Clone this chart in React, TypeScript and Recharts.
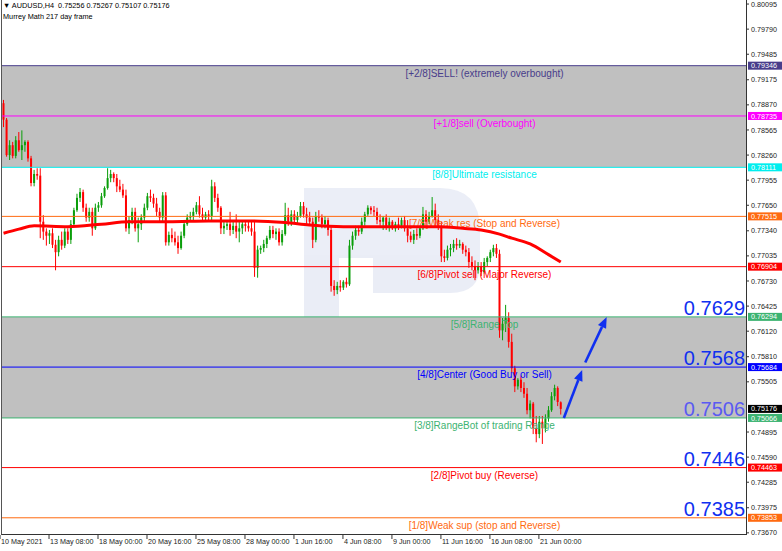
import React from "react";
import {
  Bar,
  ComposedChart,
  Line,
  ReferenceArea,
  ReferenceLine,
  XAxis,
  YAxis,
} from "recharts";

// AUDUSD H4 candles, in pips (price x 10000): open, high, low, close
const candlePips: number[][] = [
  [7889, 7893, 7860, 7869], [7869, 7871, 7824, 7826], [7826, 7844, 7820, 7838], [7838, 7842, 7822, 7825],
  [7825, 7849, 7822, 7844], [7844, 7854, 7830, 7832], [7832, 7856, 7820, 7838], [7838, 7844, 7830, 7842],
  [7842, 7844, 7818, 7822], [7822, 7825, 7788, 7792], [7792, 7808, 7788, 7803], [7803, 7810, 7796, 7801],
  [7801, 7810, 7725, 7745], [7745, 7753, 7723, 7733], [7733, 7737, 7716, 7728], [7728, 7735, 7718, 7731],
  [7731, 7737, 7713, 7717], [7717, 7723, 7686, 7708], [7708, 7728, 7703, 7723], [7723, 7733, 7711, 7716],
  [7716, 7737, 7713, 7733], [7733, 7737, 7718, 7723], [7723, 7747, 7718, 7742], [7742, 7762, 7740, 7759],
  [7759, 7779, 7757, 7774], [7774, 7786, 7769, 7781], [7781, 7784, 7757, 7762], [7762, 7767, 7745, 7750],
  [7750, 7762, 7745, 7757], [7757, 7762, 7728, 7737], [7737, 7767, 7735, 7762], [7762, 7769, 7757, 7765],
  [7765, 7780, 7762, 7776], [7776, 7788, 7774, 7786], [7786, 7810, 7784, 7798], [7798, 7808, 7793, 7803],
  [7803, 7805, 7793, 7798], [7798, 7803, 7781, 7788], [7788, 7796, 7781, 7784], [7784, 7791, 7774, 7777],
  [7777, 7784, 7733, 7737], [7737, 7752, 7730, 7747], [7747, 7762, 7742, 7757], [7757, 7762, 7733, 7737],
  [7737, 7750, 7720, 7742], [7742, 7754, 7735, 7750], [7750, 7767, 7745, 7762], [7762, 7780, 7759, 7776],
  [7776, 7784, 7769, 7774], [7774, 7779, 7762, 7767], [7767, 7774, 7752, 7757], [7757, 7762, 7745, 7750],
  [7750, 7781, 7745, 7777], [7777, 7781, 7716, 7720], [7720, 7733, 7716, 7729], [7729, 7737, 7720, 7725],
  [7725, 7733, 7716, 7720], [7720, 7728, 7706, 7713], [7713, 7733, 7711, 7728], [7728, 7747, 7725, 7742],
  [7742, 7754, 7740, 7750], [7750, 7757, 7745, 7752], [7752, 7762, 7747, 7757], [7757, 7769, 7754, 7765],
  [7765, 7776, 7750, 7754], [7754, 7762, 7745, 7750], [7750, 7757, 7745, 7754], [7754, 7759, 7747, 7752],
  [7752, 7796, 7747, 7788], [7788, 7793, 7769, 7774], [7774, 7779, 7757, 7762], [7762, 7764, 7730, 7737],
  [7737, 7745, 7730, 7740], [7740, 7747, 7735, 7742], [7742, 7757, 7728, 7735], [7735, 7747, 7730, 7740],
  [7740, 7754, 7725, 7733], [7733, 7745, 7720, 7737], [7737, 7745, 7730, 7742], [7742, 7745, 7733, 7740],
  [7740, 7747, 7733, 7737], [7737, 7745, 7728, 7733], [7733, 7745, 7678, 7689], [7689, 7716, 7677, 7711],
  [7711, 7716, 7706, 7713], [7713, 7723, 7708, 7718], [7718, 7728, 7713, 7725], [7725, 7740, 7723, 7735],
  [7735, 7740, 7725, 7730], [7730, 7737, 7723, 7733], [7733, 7737, 7716, 7720], [7720, 7735, 7716, 7730],
  [7730, 7768, 7728, 7753], [7753, 7762, 7740, 7745], [7745, 7759, 7740, 7754], [7754, 7759, 7742, 7747],
  [7747, 7757, 7742, 7752], [7752, 7769, 7750, 7764], [7764, 7769, 7750, 7754], [7754, 7762, 7742, 7750],
  [7750, 7757, 7740, 7745], [7745, 7750, 7713, 7723], [7723, 7757, 7720, 7752], [7752, 7759, 7745, 7750],
  [7750, 7754, 7737, 7742], [7742, 7752, 7737, 7747], [7747, 7750, 7728, 7735], [7735, 7740, 7660, 7667],
  [7667, 7674, 7655, 7662], [7662, 7672, 7657, 7667], [7667, 7674, 7660, 7665], [7665, 7674, 7662, 7672],
  [7672, 7677, 7665, 7669], [7669, 7723, 7667, 7716], [7716, 7733, 7711, 7728], [7728, 7740, 7723, 7735],
  [7735, 7740, 7728, 7733], [7733, 7750, 7730, 7745], [7745, 7757, 7740, 7754], [7754, 7765, 7752, 7762],
  [7762, 7764, 7754, 7759], [7759, 7764, 7752, 7757], [7757, 7762, 7742, 7747], [7747, 7754, 7740, 7745],
  [7745, 7752, 7735, 7750], [7750, 7754, 7735, 7740], [7740, 7750, 7733, 7745], [7745, 7747, 7735, 7737],
  [7737, 7745, 7733, 7742], [7742, 7750, 7735, 7740], [7740, 7750, 7737, 7747], [7747, 7752, 7733, 7737],
  [7737, 7747, 7720, 7728], [7728, 7733, 7720, 7723], [7723, 7735, 7718, 7730], [7730, 7737, 7723, 7728],
  [7728, 7740, 7725, 7737], [7737, 7763, 7735, 7754], [7754, 7759, 7740, 7745], [7745, 7757, 7742, 7752],
  [7752, 7775, 7750, 7759], [7759, 7767, 7740, 7747], [7747, 7754, 7735, 7740], [7740, 7745, 7696, 7703],
  [7703, 7711, 7696, 7701], [7701, 7716, 7698, 7711], [7711, 7718, 7703, 7713], [7713, 7723, 7708, 7718],
  [7718, 7725, 7711, 7716], [7716, 7723, 7713, 7718], [7718, 7720, 7706, 7711], [7711, 7716, 7703, 7708],
  [7708, 7713, 7689, 7696], [7696, 7703, 7686, 7691], [7691, 7698, 7674, 7686], [7686, 7696, 7682, 7691],
  [7691, 7696, 7679, 7684], [7684, 7701, 7682, 7696], [7696, 7703, 7691, 7701], [7701, 7711, 7696, 7708],
  [7708, 7717, 7703, 7713], [7713, 7718, 7701, 7706], [7706, 7711, 7604, 7613], [7613, 7628, 7601, 7621],
  [7621, 7644, 7611, 7628], [7628, 7635, 7592, 7599], [7599, 7609, 7562, 7567], [7567, 7570, 7538, 7545],
  [7545, 7555, 7541, 7553], [7553, 7558, 7538, 7543], [7543, 7550, 7531, 7536], [7536, 7543, 7511, 7516],
  [7516, 7528, 7506, 7524], [7524, 7526, 7487, 7494], [7494, 7509, 7477, 7487], [7487, 7509, 7482, 7502],
  [7502, 7509, 7475, 7494], [7494, 7511, 7489, 7506], [7506, 7521, 7502, 7516], [7516, 7538, 7514, 7533],
  [7533, 7547, 7528, 7543], [7543, 7545, 7521, 7526], [7525.6, 7526.7, 7510.7, 7517.6],
];

// moving average read at a few bars (bar index, pips)
const maBars = [0, 5, 10, 21, 32, 41, 54, 67, 81, 92, 100, 111, 124, 134, 142, 150, 156, 162, 166, 172, 178, 182];
const maPips = [7731, 7736, 7740, 7739, 7742, 7745, 7745, 7746, 7746, 7744, 7741, 7739, 7739, 7739, 7739, 7737, 7735, 7730, 7725, 7718, 7705, 7696];

const xTickBars = [0, 16, 32, 48, 64, 80, 96, 112, 128, 144, 160, 176];
const xTickLabels = [
  "10 May 2021", "13 May 08:00", "18 May 00:00", "20 May 16:00", "25 May 08:00", "28 May 00:00",
  "1 Jun 16:00", "4 Jun 08:00", "9 Jun 00:00", "11 Jun 16:00", "16 Jun 08:00", "21 Jun 00:00",
];
const yTicks = [
  0.80095, 0.7979, 0.79485, 0.79175, 0.7887, 0.78565, 0.7826, 0.77955, 0.7765, 0.7734, 0.77035,
  0.7673, 0.76425, 0.7612, 0.7581, 0.75505, 0.74895, 0.7459, 0.74285, 0.73975, 0.7367,
];

const levelPrices = [0.79346, 0.78735, 0.78111, 0.77515, 0.76904, 0.76294, 0.75684, 0.75066, 0.74463, 0.73853];
const levelNames = [
  "[+2/8]SELL! (extremely overbought)",
  "[+1/8]sell (Overbought)",
  "[8/8]Ultimate resistance",
  "[7/8]Weak res (Stop and Reverse)",
  "[6/8]Pivot sell (Major Reverse)",
  "[5/8]Range Top",
  "[4/8]Center (Good Buy or Sell)",
  "[3/8]RangeBot of trading Range",
  "[2/8]Pivot buy (Reverse)",
  "[1/8]Weak sup (stop and Reverse)",
];
const levelBig = ["", "", "", "", "", "0.7629", "0.7568", "0.7506", "0.7446", "0.7385"];
const grayBands = [[0.78111, 0.79346], [0.75066, 0.76294]];
const lastPrice = 0.75176;
const arrows = [
  [{ x: 183, y: 0.75066 }, { x: 189, y: 0.7565 }],
  [{ x: 190, y: 0.7574 }, { x: 197, y: 0.76294 }],
];

const SLOTS = 243;
const levelColors = ["#483D8B", "#FF00FF", "#00EEEE", "#FF6A10", "#FF0000", "#3CB371", "#0000FF", "#3CB371", "#FF0000", "#FF6A10"];
const bigColors = ["", "", "", "", "", "#1030F0", "#1030F0", "#5A5AF2", "#1030F0", "#1030F0"];
const GREEN = "#0A9E0A";
const RED = "#FF0000";
const BLUE = "#1030F0";
const FONT = "'Liberation Sans', Arial, sans-serif";

const data = Array.from({ length: SLOTS }, (_, i) => {
  const c = candlePips[i];
  const m = maBars.indexOf(i);
  return {
    i,
    o: c ? c[0] / 1e4 : null,
    h: c ? c[1] / 1e4 : null,
    l: c ? c[2] / 1e4 : null,
    c: c ? c[3] / 1e4 : null,
    ma: m >= 0 ? maPips[m] / 1e4 : null,
  };
});

function Candle(props: any) {
  const { x, y, width, height, payload } = props;
  if (!payload || payload.o == null || !isFinite(y) || !isFinite(height)) return <g />;
  const top = Math.min(y, y + height);
  const span = Math.abs(height);
  const range = payload.h - payload.l;
  const k = range > 0 ? span / range : 0;
  const up = payload.c >= payload.o;
  const bodyTop = top + (payload.h - Math.max(payload.o, payload.c)) * k;
  const bodyH = Math.max(1, Math.abs(payload.o - payload.c) * k);
  const cx = x + width / 2;
  const color = up ? GREEN : RED;
  return (
    <g>
      <line x1={cx} x2={cx} y1={top} y2={top + span} stroke={color} strokeWidth={1} />
      <rect x={cx - 1} y={bodyTop} width={2} height={bodyH} fill={color} />
    </g>
  );
}

function LevelShape(props: any) {
  const { k } = props;
  const left = Math.min(props.x1, props.x2);
  const right = Math.max(props.x1, props.x2);
  const y = props.y1;
  const color = levelColors[k];
  const w = right - left;
  return (
    <g>
      <line x1={left} x2={right} y1={y} y2={y} stroke={color} strokeWidth={1} />
      <text x={left + w * 0.6485} y={y + 11} textAnchor="middle" fontSize={10} fill={color} fontFamily={FONT}>
        {levelNames[k]}
      </text>
      {levelBig[k] ? (
        <text x={right - 1} y={y - 2} textAnchor="end" fontSize={20} fill={bigColors[k]} fontFamily={FONT}>
          {levelBig[k]}
        </text>
      ) : null}
      <rect x={right + 2} y={y - 4} width={34} height={8} fill={color} />
      <text x={right + 5} y={y + 2.6} fontSize={7.2} fill="#fff" fontFamily={FONT}>
        {levelPrices[k].toFixed(5)}
      </text>
    </g>
  );
}

function PriceTag(props: any) {
  const right = Math.max(props.x1, props.x2);
  const y = props.y1;
  return (
    <g>
      <rect x={right + 2} y={y - 4} width={34} height={8} fill="#000" />
      <text x={right + 5} y={y + 2.6} fontSize={7.2} fill="#fff" fontFamily={FONT}>
        {lastPrice.toFixed(5)}
      </text>
    </g>
  );
}

function ArrowShape(props: any) {
  const { x1, y1, x2, y2 } = props;
  const ang = Math.atan2(y2 - y1, x2 - x1);
  const L = 11;
  const W = 4.5;
  const bx = x2 - L * Math.cos(ang);
  const by = y2 - L * Math.sin(ang);
  const px = -Math.sin(ang) * W;
  const py = Math.cos(ang) * W;
  return (
    <g>
      <line x1={x1} y1={y1} x2={bx} y2={by} stroke={BLUE} strokeWidth={2.6} />
      <polygon points={`${x2},${y2} ${bx + px},${by + py} ${bx - px},${by - py}`} fill={BLUE} />
    </g>
  );
}

function XTick(props: any) {
  const { x, y, payload } = props;
  const idx = xTickBars.indexOf(payload.value);
  return (
    <g>
      <line x1={x - 3.5} x2={x - 3.5} y1={y + 1} y2={y + 5} stroke="#333" />
      <text x={x - 2.5} y={y + 10} fontSize={7.2} fill="#222" fontFamily={FONT}>
        {idx >= 0 ? xTickLabels[idx] : ""}
      </text>
    </g>
  );
}

function YTick(props: any) {
  const { x, y, payload } = props;
  return (
    <g>
      <line x1={x} x2={x + 3} y1={y} y2={y} stroke="#333" />
      <text x={x + 5} y={y + 2.6} fontSize={7.2} fill="#222" fontFamily={FONT}>
        {Number(payload.value).toFixed(5)}
      </text>
    </g>
  );
}

export default function App() {
  return (
    <div style={{ position: "relative", width: 782, height: 551, background: "#fff", fontFamily: FONT }}>
      <style>{"body{margin:0}"}</style>
      <div style={{ position: "absolute", left: 0, top: 0 }}>
        <ComposedChart
          width={782}
          height={551}
          data={data}
          margin={{ top: 0, right: 0, bottom: 0, left: 2 }}
          barCategoryGap={0}
          barGap={0}
        >
          {grayBands.map((b, n) => (
            <ReferenceArea key={n} y1={b[0]} y2={b[1]} fill="#C0C0C0" fillOpacity={1} stroke="none" />
          ))}
          <g opacity={0.2} fill="#9AA8D6">
            <path d="M304,188 H440 Q480,188 480,230 V265 Q480,293 450,293 H373 V258 H339 V363 H304 Z" />
            <path d="M373,327 H440 L462,363 H373 Z" />
          </g>
          <XAxis
            dataKey="i"
            type="category"
            height={17}
            ticks={xTickBars}
            interval={0}
            axisLine={false}
            tickLine={false}
            tickSize={0}
            tickMargin={0}
            tick={(p: any) => <XTick {...p} />}
          />
          <YAxis
            orientation="right"
            width={36}
            type="number"
            domain={[0.73656, 0.80144]}
            allowDataOverflow
            ticks={yTicks}
            interval={0}
            axisLine={false}
            tickLine={false}
            tickSize={0}
            tickMargin={0}
            tick={(p: any) => <YTick {...p} />}
          />
          {levelPrices.map((p, k) => (
            <ReferenceLine key={k} y={p} shape={(sp: any) => <LevelShape {...sp} k={k} />} />
          ))}
          <ReferenceLine y={lastPrice} shape={(sp: any) => <PriceTag {...sp} />} />
          <Bar
            dataKey={(d: any) => (d.o == null ? null : [d.l, d.h])}
            shape={(p: any) => <Candle {...p} />}
            isAnimationActive={false}
          />
          <Line
            dataKey="ma"
            type="monotone"
            connectNulls
            stroke="#FF0000"
            strokeWidth={3}
            dot={false}
            activeDot={false}
            isAnimationActive={false}
          />
          {arrows.map((seg, n) => (
            <ReferenceLine key={"a" + n} segment={seg} shape={(sp: any) => <ArrowShape {...sp} />} />
          ))}
        </ComposedChart>
      </div>
      <div
        style={{
          position: "absolute",
          left: 1,
          top: 0,
          width: 746,
          height: 535,
          boxSizing: "border-box",
          borderLeft: "1px solid #555",
          borderRight: "1px solid #333",
          borderBottom: "1px solid #333",
          pointerEvents: "none",
        }}
      />
      <div style={{ position: "absolute", left: 3, top: 1, fontSize: 7.3, lineHeight: "10px", color: "#000", whiteSpace: "pre" }}>
        {"\u25BC AUDUSD,H4  0.75256 0.75267 0.75107 0.75176"}
      </div>
      <div style={{ position: "absolute", left: 3, top: 12, fontSize: 7.3, lineHeight: "10px", color: "#000", whiteSpace: "pre" }}>
        Murrey Math 217 day frame
      </div>
    </div>
  );
}
